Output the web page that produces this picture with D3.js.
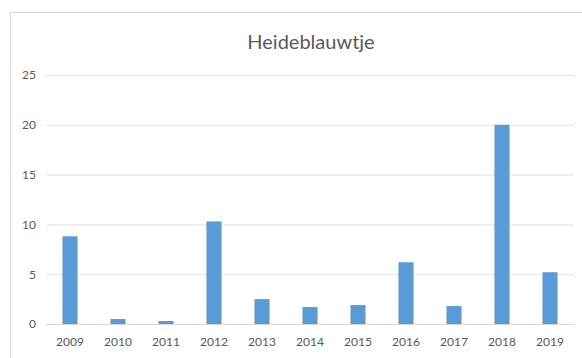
<!DOCTYPE html>
<html>
<head>
<meta charset="utf-8">
<script src="https://cdn.jsdelivr.net/npm/d3@7"></script>
<style>
html,body{margin:0;padding:0;background:#fff;}
svg{display:block;}
</style>
</head>
<body>
<svg id="chart" width="582" height="358"></svg>
<script>
const title = "Heideblauwtje";
const years = ["2009","2010","2011","2012","2013","2014","2015","2016","2017","2018","2019"];
const values = [8.8, 0.5, 0.3, 10.3, 2.5, 1.7, 1.9, 6.2, 1.8, 20, 5.2];
const yTicks = [0, 5, 10, 15, 20, 25];

const svg = d3.select("#chart");
const W = 582, H = 358;
const m = {left: 46, right: 8, top: 75, bottom: 34};

// chart frame
svg.append("rect").attr("x", 10.5).attr("y", 12.5).attr("width", 580).attr("height", 360)
  .attr("fill", "#fff").attr("stroke", "#d9d9d9").attr("stroke-width", 1);

const x = d3.scaleBand().domain(years).range([m.left, W - m.right]).paddingInner(0.686).paddingOuter(0.343);
const y = d3.scaleLinear().domain([0, 25]).range([H - m.bottom, m.top]);

// gridlines
const yAxis = d3.axisLeft(y).tickValues(yTicks).tickSize(-(W - m.right - m.left)).tickPadding(10);
const gy = svg.append("g").attr("transform", `translate(${m.left},0)`).call(yAxis);
gy.select(".domain").remove();
gy.selectAll(".tick line").attr("stroke", "#e3e3e3").attr("stroke-width", 1);
gy.selectAll(".tick text").attr("fill", "#595959").attr("font-family", "Lato, 'Open Sans', sans-serif").attr("font-size", 12);

// bars
svg.append("g").selectAll("rect").data(years).join("rect")
  .attr("x", d => x(d))
  .attr("width", x.bandwidth())
  .attr("y", (d, i) => y(values[i]))
  .attr("height", (d, i) => y(0) - y(values[i]))
  .attr("fill", "#5b9bd5");

// x axis
const xAxis = d3.axisBottom(x).tickSize(0).tickPadding(13);
const gx = svg.append("g").attr("transform", `translate(0,${y(0)})`).call(xAxis);
gx.select(".domain").attr("stroke", "#d9d9d9");
gx.selectAll(".tick text").attr("fill", "#595959").attr("font-family", "Lato, 'Open Sans', sans-serif").attr("font-size", 12);

// title
svg.append("text").attr("x", (m.left + W - m.right) / 2 + 1).attr("y", 49)
  .attr("text-anchor", "middle").attr("fill", "#595959")
  .attr("font-family", "Lato, 'Open Sans', sans-serif").attr("font-size", 20)
  .text(title);
</script>
</body>
</html>
